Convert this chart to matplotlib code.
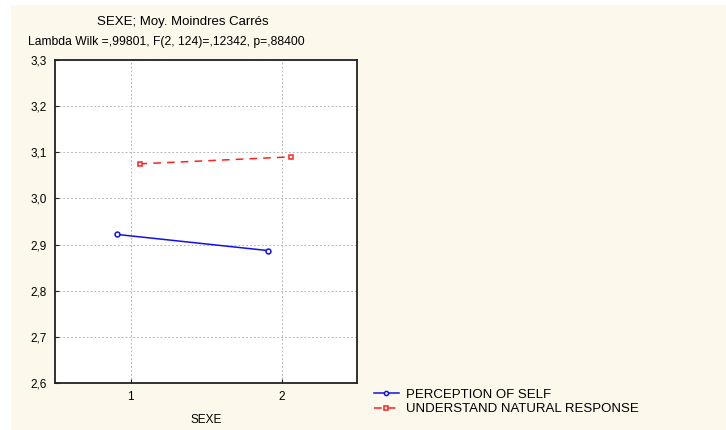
import matplotlib.pyplot as plt
from matplotlib.patches import Rectangle

plt.rcParams['font.family'] = ['Liberation Sans', 'DejaVu Sans']

sexe = [1, 2]
perception = [2.922, 2.887]
understand = [3.075, 3.090]
yticks = [2.6, 2.7, 2.8, 2.9, 3.0, 3.1, 3.2, 3.3]

fig = plt.figure(figsize=(7.26, 4.30), dpi=100)
fig.patch.set_facecolor('white')
# cream panel behind everything, leaving a thin white border top/left
fig.add_artist(Rectangle((11 / 726, 0), 1, 1 - 5 / 430, transform=fig.transFigure,
                         facecolor='#fdf8ec', edgecolor='none', zorder=-10))

ax = fig.add_axes([55 / 726, 1 - 383 / 430, 302 / 726, 323 / 430])
ax.set_facecolor('white')

ax.plot([x - 0.09 for x in sexe], perception, color='#1010ee', lw=1.1,
        marker='o', ms=3.5, mfc='white', mew=1.1, label='PERCEPTION OF SELF')
ax.plot([x + 0.06 for x in sexe], understand, color='#ff2020', lw=1.1, ls=(0, (5, 4)),
        marker='s', ms=3.5, mfc='white', mew=1.1, label='UNDERSTAND NATURAL RESPONSE')

ax.set_xlim(0.5, 2.5)
ax.set_ylim(2.6, 3.3)
ax.set_xticks(sexe)
ax.set_yticks(yticks)
ax.set_yticklabels([f'{v:.1f}'.replace('.', ',') for v in yticks])
ax.grid(True, color='#b8b8b8', ls=(0, (2, 2)), lw=0.7)
ax.tick_params(direction='in', length=3, labelsize=8.5, pad=6, color='#222222')
for s in ax.spines.values():
    s.set_linewidth(1.3)
    s.set_color('#222222')

ax.set_xlabel('SEXE', fontsize=8.5, labelpad=8)
fig.text(183 / 726, 1 - 22 / 430, 'SEXE; Moy. Moindres Carrés', ha='center', va='center', fontsize=9.5)
fig.text(166 / 726, 1 - 42 / 430, 'Lambda Wilk =,99801, F(2, 124)=,12342, p=,88400',
         ha='center', va='center', fontsize=8.7)

fig.legend(loc='upper left', bbox_to_anchor=(362 / 726, 1 - 377 / 430), frameon=False,
           fontsize=9.5, handlelength=1.9, handletextpad=0.5, labelspacing=0.15, markerscale=0.85)

fig.savefig('out.png', dpi=100, facecolor=fig.get_facecolor())
